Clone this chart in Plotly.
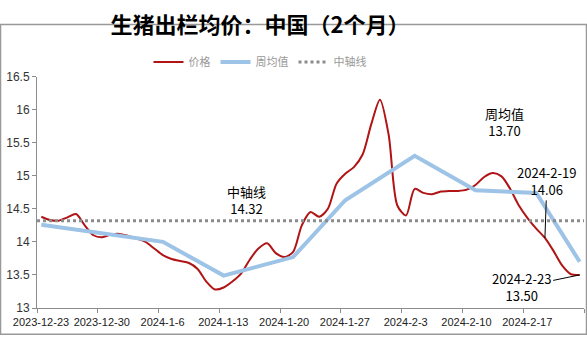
import pandas as pd
import plotly.graph_objects as go

# ---------------- data ----------------
start_date = "2023-12-23"
end_date = "2024-02-24"
price = [14.38, 14.33, 14.32, 14.37, 14.42, 14.25, 14.10, 14.07, 14.11, 14.12,
         14.09, 14.05, 14.00, 13.90, 13.80, 13.74, 13.71, 13.68, 13.59, 13.40,
         13.28, 13.31, 13.40, 13.52, 13.73, 13.90, 13.98, 13.83, 13.77, 13.85,
         14.25, 14.45, 14.38, 14.50, 14.88, 15.03, 15.13, 15.32, 15.78, 16.15,
         15.62, 14.55, 14.40, 14.80, 14.74, 14.72, 14.76, 14.77, 14.77, 14.79,
         14.86, 14.98, 15.04, 14.99, 14.80, 14.55, 14.36, 14.20, 14.06, 13.86,
         13.64, 13.51, 13.50]
week_idx = [0, 7, 14, 21, 29, 35, 43, 50, 57, 62]
week_avg = [14.26, 14.13, 14.00, 13.49, 13.77, 14.63, 15.30, 14.78, 14.74, 13.70]
mid_value = 14.32
y_ticks = [13, 13.5, 14, 14.5, 15, 15.5, 16, 16.5]
y_text = ["13", "13.5", "14", "14.5", "15", "15.5", "16", "16.5"]
tick_dates = ["2023-12-23", "2023-12-30", "2024-01-06", "2024-01-13", "2024-01-20",
              "2024-01-27", "2024-02-03", "2024-02-10", "2024-02-17", "2024-02-24"]
tick_text = ["2023-12-23", "2023-12-30", "2024-1-6", "2024-1-13", "2024-1-20",
             "2024-1-27", "2024-2-3", "2024-2-10", "2024-2-17", ""]

days = pd.date_range(start_date, periods=len(price), freq="D") + pd.Timedelta(hours=12)
week_x = [days[i] for i in week_idx]

RED = "#B01414"
BLUE = "#9DC3E6"
GRAY = "#8C8C8C"
CJK = "Noto Sans CJK SC"

W, H = 587, 337
ML, MR, MT, MB = 37, 3, 57, 29

fig = go.Figure()
fig.add_trace(go.Scatter(x=days, y=price, mode="lines", name="价格",
                         line=dict(color=RED, width=2, shape="spline", smoothing=0.8)))
fig.add_trace(go.Scatter(x=week_x, y=week_avg, mode="lines", name="周均值",
                         line=dict(color=BLUE, width=4)))
fig.add_trace(go.Scatter(x=[pd.Timestamp(start_date), pd.Timestamp(end_date)],
                         y=[mid_value, mid_value], mode="lines", name="中轴线",
                         line=dict(color=GRAY, width=3, dash="dot")))

ann_font = dict(family=CJK, size=13, color="#000000")
fig.add_annotation(x=pd.Timestamp("2024-01-16 02:00"), y=mid_value,
                   text="中轴线<br>%.2f" % mid_value, showarrow=False,
                   yanchor="bottom", yshift=1, font=ann_font)
fig.add_annotation(x=week_x[-1], y=week_avg[-1], text="周均值<br>%.2f" % week_avg[-1],
                   showarrow=False, xshift=-75, yshift=140, font=ann_font)
fig.add_annotation(x=days[58], y=price[58], text="2024-2-19<br>%.2f" % price[58],
                   showarrow=True, arrowhead=0, arrowwidth=1, arrowcolor="#000000",
                   ax=2, ay=-57, font=ann_font)
fig.add_annotation(x=days[62], y=price[62], text="2024-2-23<br>%.2f" % price[62],
                   showarrow=True, arrowhead=0, arrowwidth=1, arrowcolor="#000000",
                   ax=-58, ay=12, font=ann_font)

pw = W - ML - MR
ph = H - MT - MB
fig.add_shape(type="rect", xref="paper", yref="paper",
              x0=(-ML + 0.5) / pw, x1=1 + (MR - 0.5) / pw,
              y0=(-MB + 0.5) / ph, y1=1 + (MT - 0.5) / ph,
              line=dict(color="#999999", width=1.5), layer="above")

fig.update_layout(
    width=W, height=H,
    margin=dict(l=ML, r=MR, t=MT, b=MB, pad=0),
    paper_bgcolor="white", plot_bgcolor="white",
    title=dict(text="<b>生猪出栏均价：中国（2个月）</b>", xref="container", x=260 / W,
               xanchor="center", yref="container", y=1 - 25 / H, yanchor="middle",
               font=dict(family=CJK, size=22, color="#000000")),
    legend=dict(orientation="h", xref="container", x=260 / W, xanchor="center",
                yref="container", y=1 - 62 / H, yanchor="middle",
                font=dict(family=CJK, size=11, color="#999999"),
                bgcolor="rgba(0,0,0,0)", itemwidth=30, tracegroupgap=0),
    showlegend=True,
    xaxis=dict(type="date", range=[start_date, end_date], tickvals=tick_dates,
               ticktext=tick_text, ticks="outside", ticklen=4, tickcolor=GRAY,
               showline=True, linecolor=GRAY, linewidth=1, showgrid=False,
               zeroline=False, ticklabelshift=4, automargin=False,
               tickfont=dict(family="Liberation Sans", size=11, color="#222222")),
    yaxis=dict(range=[13, 16.5], tickvals=y_ticks, ticktext=y_text, ticks="outside",
               ticklen=4, tickcolor=GRAY,
               showline=True, linecolor=GRAY, linewidth=1, showgrid=False,
               zeroline=False, automargin=False,
               tickfont=dict(family="Liberation Sans", size=12, color="#333333")),
)

fig.write_html("out.html")
